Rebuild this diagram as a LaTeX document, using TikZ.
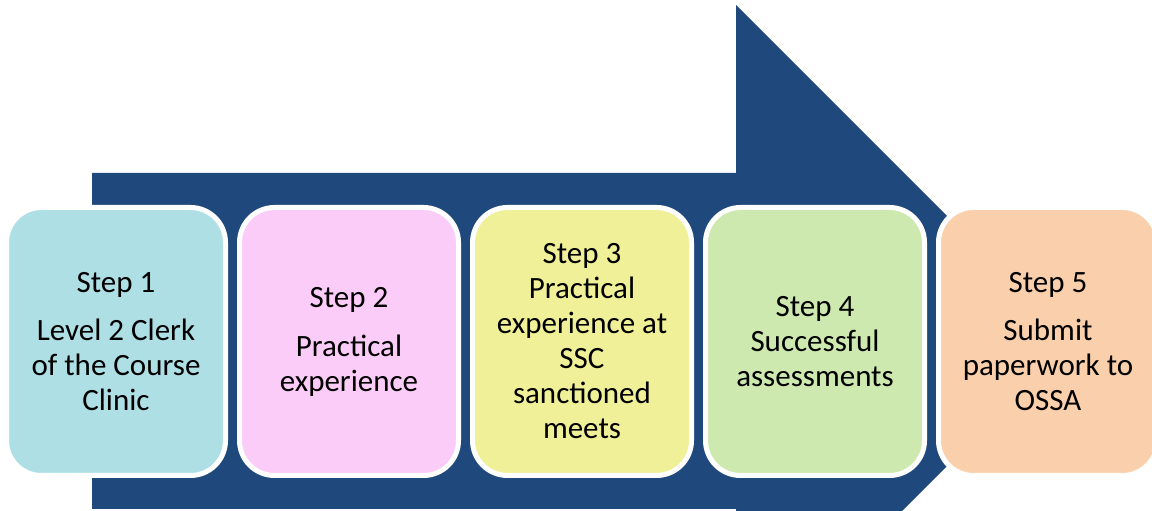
\documentclass[tikz,border=0pt]{standalone}
\usepackage{fontspec}
\setmainfont{Carlito}
\usepackage{xcolor}
\definecolor{arrowblue}{RGB}{31,73,125}
\definecolor{boxblue}{RGB}{174,223,229}
\definecolor{boxpink}{RGB}{252,204,248}
\definecolor{boxyellow}{RGB}{240,240,153}
\definecolor{boxgreen}{RGB}{205,233,176}
\definecolor{boxorange}{RGB}{250,207,171}

\begin{document}
\begin{tikzpicture}[x=1pt,y=1pt,
		stepbox/.style={draw=white, line width=5pt, rounded corners=35pt, minimum width=219pt, minimum height=268pt, inner sep=0pt, align=center, font=\fontsize{31}{35}\selectfont}]
		\useasboundingbox (0,0) rectangle (1152,511);
		\clip (0,0) rectangle (1152,511);
		\fill[arrowblue] (92,338) -- (736,338) -- (736,506) -- (1072,170) -- (736,-166) -- (736,2) -- (92,2) -- cycle;
		\node[stepbox, fill=boxblue] (s1) at (116,169.5) {Step 1\\[13pt] Level 2 Clerk\\ of the Course\\ Clinic};
		\node[stepbox, fill=boxpink] (s2) at (349,169.5) {Step 2\\[14pt] Practical\\ experience};
		\node[stepbox, fill=boxyellow] (s3) at (582,169.5) {Step 3\\ Practical\\ experience at\\ SSC\\ sanctioned\\ meets};
		\node[stepbox, fill=boxgreen] (s4) at (815,169.5) {Step 4\\ Successful\\ assessments};
		\node[stepbox, fill=boxorange] (s5) at (1048,169.5) {Step 5\\[13pt] Submit\\ paperwork to\\ OSSA};
	\end{tikzpicture}
\end{document}
